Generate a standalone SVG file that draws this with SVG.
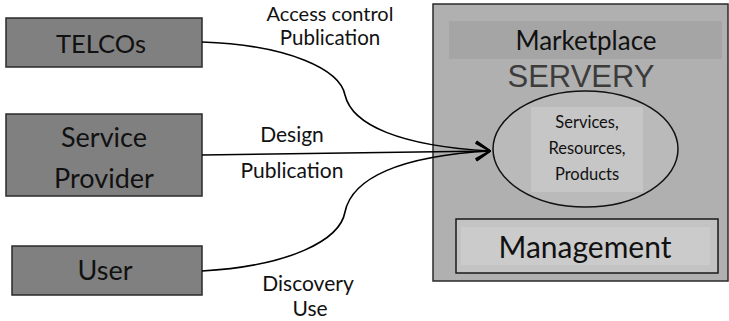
<svg xmlns="http://www.w3.org/2000/svg" width="729" height="321" viewBox="0 0 729 321">
  <defs>
    <marker id="openArrow" viewBox="0 0 16 20" refX="15" refY="10" markerWidth="16" markerHeight="20" markerUnits="userSpaceOnUse" orient="auto">
      <path d="M1,1 L15,10 L1,19" fill="none" stroke="#000" stroke-width="2"/>
    </marker>
    <style>
      .actor { fill: #808080; stroke: #2a2a2a; stroke-width: 1.5; }
      .lbl { font-family: Lato, "Open Sans", sans-serif; fill: #111; text-anchor: middle; }
      .flow { fill: none; stroke: #000; stroke-width: 1.6; }
    </style>
  </defs>

  <rect width="729" height="321" fill="#fff"/>

  <!-- actors on the left -->
  <g id="telcos">
    <rect class="actor" x="6" y="18" width="196" height="49"/>
    <text class="lbl" x="101" y="53" font-size="25.5">TELCOs</text>
  </g>
  <g id="service-provider">
    <rect class="actor" x="6" y="114" width="196" height="82"/>
    <text class="lbl" x="104" y="147" font-size="27">Service</text>
    <text class="lbl" x="104" y="188" font-size="27">Provider</text>
  </g>
  <g id="user">
    <rect class="actor" x="12" y="246" width="190" height="49"/>
    <text class="lbl" x="105" y="280" font-size="27">User</text>
  </g>

  <!-- marketplace container -->
  <g id="servery">
    <rect x="433" y="4" width="295" height="277" fill="#b0b0b0" stroke="#2a2a2a" stroke-width="1.5"/>
    <rect x="449" y="21" width="273" height="38" fill="#a5a5a5"/>
    <text class="lbl" x="586" y="50" font-size="26">Marketplace</text>
    <text x="581" y="87" font-family="'Liberation Sans', Arial, sans-serif" font-size="31" fill="#3c3c3c" text-anchor="middle">SERVERY</text>
  </g>
  <g id="catalogue">
    <ellipse cx="585.5" cy="149" rx="92.5" ry="58" fill="#bababa" stroke="#111" stroke-width="1.5"/>
    <rect x="531" y="107" width="112" height="85" fill="#c6c6c6"/>
    <text class="lbl" x="587" y="128" font-size="16.5">Services,</text>
    <text class="lbl" x="587" y="154" font-size="16.5">Resources,</text>
    <text class="lbl" x="587" y="180" font-size="16.5">Products</text>
  </g>
  <g id="management">
    <rect x="456" y="219" width="262" height="54" fill="#c3c3c3" stroke="#1a1a1a" stroke-width="1.5"/>
    <rect x="461" y="227" width="249" height="38" fill="#cbcbcb"/>
    <text class="lbl" x="585" y="258" font-size="30">Management</text>
  </g>

  <!-- connectors -->
  <g id="connectors">
    <path class="flow" d="M202,42 C290,45 340,70 345,95 C352,125 400,146 490,151" marker-end="url(#openArrow)"/>
    <path class="flow" d="M202,155 L490,151" marker-end="url(#openArrow)"/>
    <path class="flow" d="M202,271 C290,266 340,240 345,212 C352,178 400,156 490,151" marker-end="url(#openArrow)"/>
  </g>

  <!-- connector labels -->
  <g id="labels">
    <text class="lbl" x="330" y="21" font-size="20">Access control</text>
    <text class="lbl" x="330" y="45" font-size="20.5">Publication</text>
    <text class="lbl" x="292" y="142" font-size="21">Design</text>
    <text class="lbl" x="292" y="178" font-size="21">Publication</text>
    <text class="lbl" x="308" y="291" font-size="21">Discovery</text>
    <text class="lbl" x="310" y="316" font-size="21">Use</text>
  </g>
</svg>
